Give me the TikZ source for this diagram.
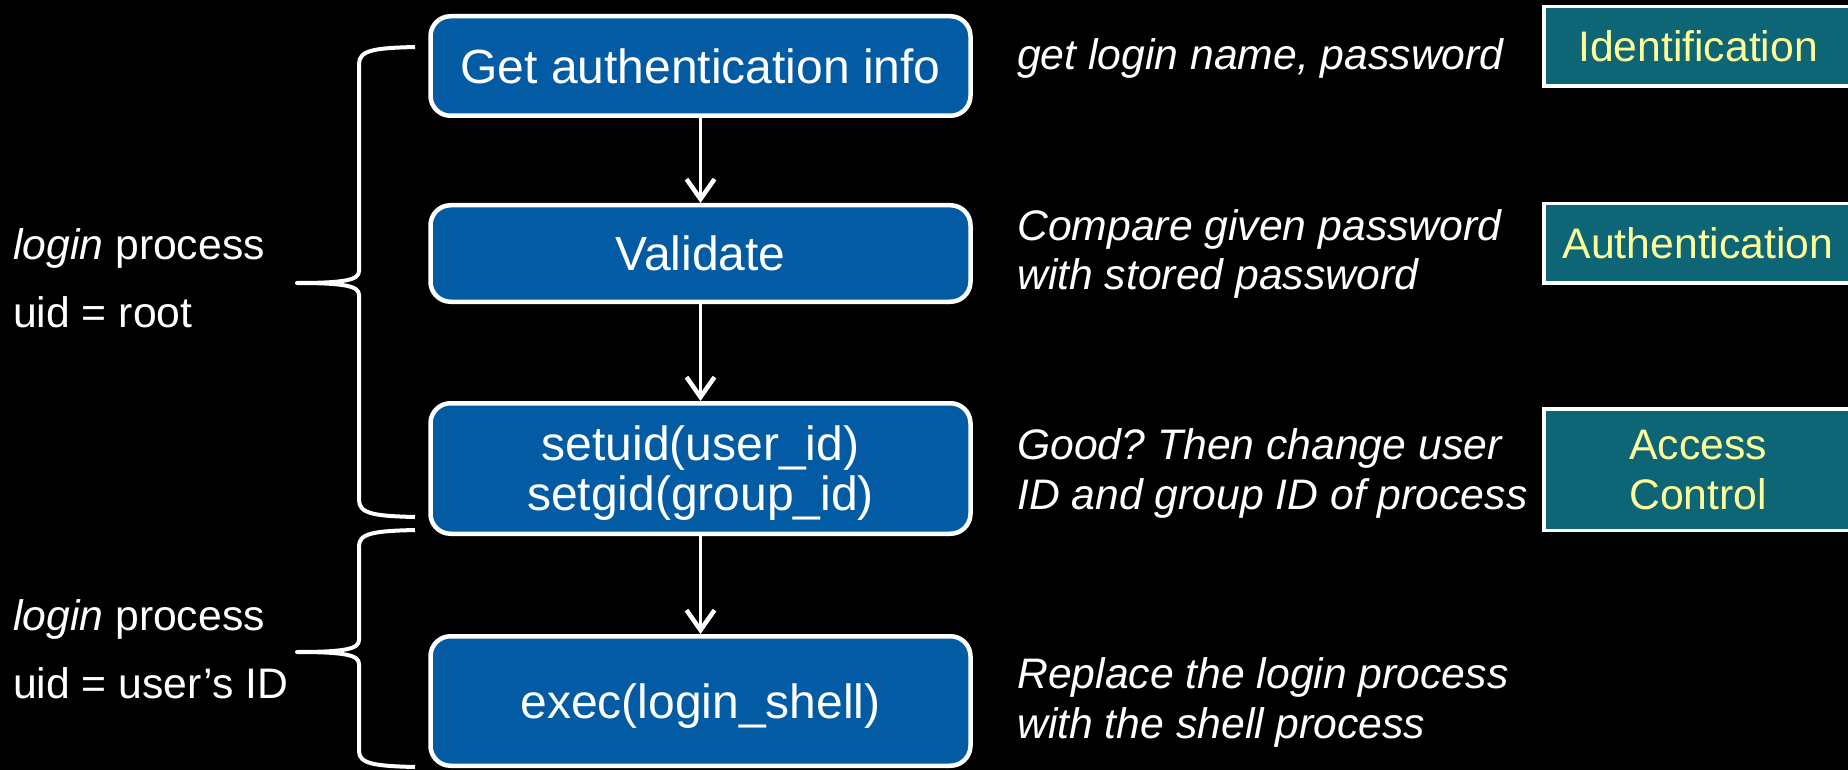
\documentclass[tikz,border=0pt]{standalone}
\usepackage{fontspec}
\setmainfont{Liberation Sans}
\usetikzlibrary{arrows.meta}
\definecolor{mainblue}{HTML}{035CA3}
\definecolor{tealbox}{HTML}{0E6576}
\definecolor{paleyellow}{HTML}{FFFF99}
\frenchspacing
\tikzset{
 stepbox/.style={draw=white, line width=4.5pt, fill=mainblue, rounded corners=20pt,
   minimum width=540pt, text=white, font=\fontsize{48}{50}\selectfont, align=center,
   text height=34.4pt, text depth=0pt, inner sep=0pt},
 tagbox/.style={draw=white, line width=3.5pt, fill=tealbox, minimum width=308.5pt,
   text=paleyellow, font=\fontsize{42.7}{50}\selectfont, align=center, inner sep=0pt,
   text height=30.6pt, text depth=0pt},
 note/.style={text=white, font=\fontsize{42.7}{50}\selectfont\itshape, align=left,
   anchor=base west, inner sep=0pt},
 sidetext/.style={text=white, font=\fontsize{42.7}{67.5}\selectfont, align=left,
   anchor=base west, inner sep=0pt},
 flow/.style={draw=white, line width=3.5pt,
   -{Straight Barb[length=20pt,width=28pt,line width=4.5pt]}},
 brace/.style={draw=white, line width=4pt, line join=round},
}
\begin{document}
\begin{tikzpicture}[x=1pt,y=-1pt]
\fill[black] (0,0) rectangle (1848,770);
\useasboundingbox (0,0) rectangle (1848,770);
\clip (0,0) rectangle (1848,770);

% main steps
\node[stepbox, minimum height=99.5pt] (m1) at (700.5,66) {Get authentication info};
\node[stepbox, minimum height=96.5pt] (m2) at (700.5,253.5) {Validate};
\node[stepbox, minimum height=130.5pt, text height=84.4pt] (m3) at (700.5,468.5) {setuid(user\_id)\\setgid(group\_id)};
\node[stepbox, minimum height=129.5pt] (m4) at (700.5,701) {exec(login\_shell)};

\draw[flow] (m1) -- (m2);
\draw[flow] (m2) -- (m3);
\draw[flow] (m3) -- (m4);

% notes (base = last line baseline)
\node[note] (n1) at (1017,70) {get login name, password};
\node[note] (n2) at (1017,290) {Compare given password\\with stored password};
\node[note] (n3) at (1017,509) {Good? Then change user\\ID and group ID of process};
\node[note] (n4) at (1017,738) {Replace the login process\\with the shell process};

% tags
\node[tagbox, minimum height=79.5pt] (t1) at (1698,46.5) {Identification};
\node[tagbox, minimum height=79.5pt] (t2) at (1698,243.5) {Authentication};
\node[tagbox, minimum height=121.5pt, text height=80.6pt] (t3) at (1698,469.5) {Access\\Control};

% left labels
\node[sidetext] (s1) at (13,327) {\textit{login} process\\uid = root};
\node[sidetext] (s2) at (13,698) {\textit{login} process\\uid = user’s ID};

% braces
\coordinate (b1t) at (415,47);
\coordinate (b1m) at (297,283);
\coordinate (b1b) at (415,517);
\coordinate (b2t) at (415,530);
\coordinate (b2m) at (297,652);
\coordinate (b2b) at (415,767);
\draw[brace] (b1t) .. controls (375,48) and (359,50) .. (359,64) -- (359,271)
  .. controls (359,280) and (345,283) .. (b1m)
  .. controls (345,283) and (359,286) .. (359,295) -- (359,500)
  .. controls (359,514) and (375,516) .. (b1b);
\draw[brace] (b2t) .. controls (375,531) and (359,533) .. (359,546) -- (359,640)
  .. controls (359,649) and (345,652) .. (b2m)
  .. controls (345,652) and (359,655) .. (359,664) -- (359,751)
  .. controls (359,764) and (375,766) .. (b2b);
\end{tikzpicture}
\end{document}
